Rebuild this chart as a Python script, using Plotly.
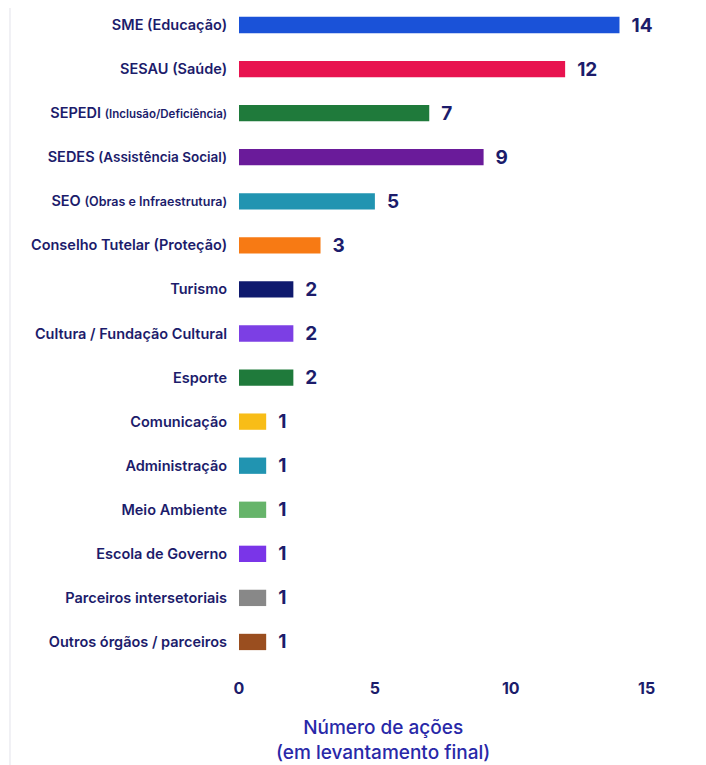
import plotly.graph_objects as go

categories = [
    "SME (Educação)",
    "SESAU (Saúde)",
    "SEPEDI <span style='font-size:11.5px'>(Inclusão/Deficiência)</span>",
    "SEDES <span style='font-size:13.5px'>(Assistência Social)</span>",
    "SEO <span style='font-size:12.5px'>(Obras e Infraestrutura)</span>",
    "Conselho Tutelar (Proteção)",
    "Turismo",
    "Cultura / Fundação Cultural",
    "Esporte",
    "Comunicação",
    "Administração",
    "Meio Ambiente",
    "Escola de Governo",
    "Parceiros intersetoriais",
    "Outros órgãos / parceiros",
]
values = [14, 12, 7, 9, 5, 3, 2, 2, 2, 1, 1, 1, 1, 1, 1]
colors = [
    "#1a52d8", "#e8134f", "#1f7a3b", "#6a1b9a", "#2194b1", "#f77a14",
    "#0f1a6e", "#7c3fe4", "#1f7a3b", "#f8bd17", "#2194b1", "#66b46a",
    "#7a35e8", "#888888", "#9a4e1f",
]
x_ticks = [0, 5, 10, 15]

navy = "#1c1c6b"

fig = go.Figure(
    go.Bar(
        y=categories,
        x=values,
        orientation="h",
        marker=dict(color=colors, line=dict(width=0)),
        width=0.37,
        text=values,
        texttemplate="  %{x}",
        textposition="outside",
        constraintext="none",
        cliponaxis=False,
        textfont=dict(family="Inter", size=19, color=navy, weight=700),
        hoverinfo="skip",
    )
)

fig.add_annotation(
    text="Número de ações<br>(em levantamento final)",
    xref="paper", yref="paper",
    x=0.325, y=0, yshift=-50,
    xanchor="center", yanchor="top",
    showarrow=False,
    font=dict(family="Inter", size=19, color="#2828a8", weight=500),
)

# faint frame edge at the far left of the reference image
fig.add_shape(
    type="line", xref="paper", yref="paper",
    x0=-0.517, x1=-0.517, y0=-0.2, y1=1.02,
    line=dict(color="#ececf1", width=1.5),
)

fig.update_layout(
    width=698,
    height=757,
    margin=dict(l=231, r=24, t=0, b=101),
    paper_bgcolor="white",
    plot_bgcolor="white",
    showlegend=False,
    font=dict(family="Inter", color=navy),
    xaxis=dict(
        range=[0, 16.3],
        tickvals=x_ticks,
        showgrid=False,
        zeroline=False,
        showline=False,
        ticks="outside",
        ticklen=10,
        tickcolor="white",
        tickfont=dict(family="Inter", size=16, color=navy, weight=700),
    ),
    yaxis=dict(
        range=[14.5, -0.386],
        showgrid=False,
        zeroline=False,
        showline=False,
        ticks="outside",
        ticklen=8,
        tickcolor="white",
        tickfont=dict(family="Inter", size=14.5, color=navy, weight=600),
    ),
)

fig.write_html("out.html")
